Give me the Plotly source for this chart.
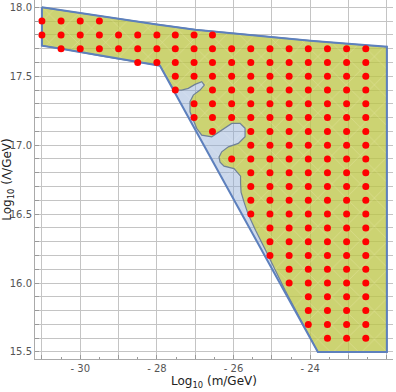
import plotly.graph_objects as go

# ---- outer allowed region (blue boundary) ----
outer_x = [-31.0, -30.0, -29.0, -28.0, -27.0, -26.0, -25.0, -24.0, -23.0, -22.0,
           -22.0, -23.8, -27.92, -28.0, -28.5, -29.0, -29.5, -30.0, -30.5, -31.0, -31.0]
outer_y = [18.0, 17.958, 17.917, 17.876, 17.838, 17.81, 17.783, 17.758, 17.735, 17.714,
           15.5, 15.5, 17.576, 17.58, 17.60, 17.625, 17.65, 17.676, 17.70, 17.722, 18.0]

# ---- inner (yellow) region with wavy boundary ----
inner_x = [-31.0, -30.0, -29.0, -28.0, -27.0, -26.0, -25.0, -24.0, -23.0, -22.0,
           -22.0, -23.8,
           -24.655, -24.903, -25.164, -25.426, -25.621, -25.726, -25.804, -25.817, -25.817,
           -25.987, -26.248, -26.352, -26.379, -26.308, -26.136, -25.875, -25.700, -25.700,
           -25.830, -26.047, -26.308, -26.569, -26.830, -26.961, -27.050, -27.136, -27.136,
           -27.050, -26.875, -26.762, -26.830, -27.005, -27.180, -27.352, -27.554,
           -27.92, -28.0, -28.5, -29.0, -29.5, -30.0, -30.5, -31.0, -31.0]
inner_y = [18.0, 17.958, 17.917, 17.876, 17.838, 17.81, 17.783, 17.758, 17.735, 17.714,
           15.5, 15.5,
           15.948, 16.093, 16.238, 16.383, 16.500, 16.587, 16.659, 16.725, 16.775,
           16.830, 16.848, 16.877, 16.913, 16.952, 16.988, 17.013, 17.061, 17.122,
           17.158, 17.158, 17.109, 17.061, 17.073, 17.122, 17.182, 17.242, 17.315,
           17.363, 17.400, 17.436, 17.460, 17.441, 17.412, 17.400, 17.400,
           17.576, 17.58, 17.60, 17.625, 17.65, 17.676, 17.70, 17.722, 18.0]

# ---- sample points (red dots) ----
sample_x = [-31.0, -30.5, -30.0, -29.5, -29.0, -28.5, -28.0, -27.52, -27.03,
            -26.55, -26.05, -25.55, -25.05, -24.55, -24.05, -23.55, -23.05, -22.55]
row_y = [17.9, 17.8, 17.7, 17.6, 17.5, 17.4, 17.3, 17.2, 17.1, 17.0, 16.9, 16.8,
         16.7, 16.6, 16.5, 16.4, 16.3, 16.2, 16.1, 16.0, 15.9, 15.8, 15.7, 15.6]
row_cols = [
    [0, 1, 2, 3],
    [0, 1, 2, 3, 4, 5, 6, 7, 8, 9],
    [1, 2, 3, 4, 5, 6, 7, 8, 9, 10, 11, 12, 13, 14, 15, 16, 17],
    [5, 6, 7, 8, 9, 10, 11, 12, 13, 14, 15, 16, 17],
    [7, 8, 9, 10, 11, 12, 13, 14, 15, 16, 17],
    [7, 9, 10, 11, 12, 13, 14, 15, 16, 17],
    [8, 9, 10, 11, 12, 13, 14, 15, 16, 17],
    [8, 9, 10, 11, 12, 13, 14, 15, 16, 17],
    [9, 11, 12, 13, 14, 15, 16, 17],
    [11, 12, 13, 14, 15, 16, 17],
    [10, 11, 12, 13, 14, 15, 16, 17],
    [11, 12, 13, 14, 15, 16, 17],
    [11, 12, 13, 14, 15, 16, 17],
    [11, 12, 13, 14, 15, 16, 17],
    [11, 12, 13, 14, 15, 16, 17],
    [12, 13, 14, 15, 16, 17],
    [12, 13, 14, 15, 16, 17],
    [12, 13, 14, 15, 16, 17],
    [13, 14, 15, 16, 17],
    [13, 14, 15, 16, 17],
    [14, 15, 16, 17],
    [14, 15, 16, 17],
    [14, 15, 16, 17],
    [15, 16, 17],
]

# ---- ticks ----
x_tick_vals = [-31, -30, -29, -28, -27, -26, -25, -24, -23, -22]
x_tick_text = [" ", "- 30", " ", "- 28", " ", "- 26", " ", "- 24", " ", "- 22"]
y_tick_vals = [15.5, 15.6, 15.7, 15.8, 15.9, 16.0, 16.1, 16.2, 16.3, 16.4, 16.5, 16.6, 16.7,
               16.8, 16.9, 17.0, 17.1, 17.2, 17.3, 17.4, 17.5, 17.6, 17.7, 17.8, 17.9, 18.0]
y_tick_text = ["15.5", " ", " ", " ", " ", "16.0", " ", " ", " ", " ", "16.5", " ", " ", " ", " ",
               "17.0", " ", " ", " ", " ", "17.5", " ", " ", " ", " ", "18.0"]

dots_x, dots_y = [], []
for y, cols in zip(row_y, row_cols):
    for c in cols:
        dots_x.append(sample_x[c])
        dots_y.append(y)

fig = go.Figure()
fig.add_trace(go.Scatter(
    x=outer_x, y=outer_y, mode="lines", fill="toself",
    fillcolor="rgba(140,168,212,0.45)", line=dict(width=0),
    fillpattern=dict(shape="x", bgcolor="rgba(140,168,212,0.45)", fgcolor="white",
                     fgopacity=0.35, size=20, solidity=0.04),
    hoverinfo="skip", showlegend=False))
fig.add_trace(go.Scatter(
    x=inner_x, y=inner_y, mode="lines", fill="toself",
    fillcolor="rgba(205,207,20,0.56)", line=dict(color="#6f8196", width=1.2),
    fillpattern=dict(shape="x", bgcolor="rgba(205,207,20,0.56)", fgcolor="white",
                     fgopacity=0.3, size=20, solidity=0.04),
    hoverinfo="skip", showlegend=False))
fig.add_trace(go.Scatter(
    x=outer_x, y=outer_y, mode="lines",
    line=dict(color="#5d80bd", width=2.0),
    hoverinfo="skip", showlegend=False))
fig.add_trace(go.Scatter(
    x=dots_x, y=dots_y, mode="markers",
    marker=dict(color="#ff0000", size=7, line=dict(width=0)),
    showlegend=False))

fig.update_layout(
    width=396, height=392,
    margin=dict(l=35, r=3, t=0, b=33),
    paper_bgcolor="white", plot_bgcolor="white",
    font=dict(family="DejaVu Sans", size=10, color="#555555"),
)
fig.update_xaxes(
    automargin=False,
    range=[-31.18, -21.84],
    tickmode="array", tickvals=x_tick_vals, ticktext=x_tick_text,
    ticks="inside", ticklen=4, tickcolor="#999999",
    minor=dict(dtick=0.5, tick0=-31, ticks="inside", ticklen=2, tickcolor="#999999", showgrid=False),
    showgrid=True, gridcolor="#c4c4c4", gridwidth=1,
    showline=True, linecolor="#aaaaaa", linewidth=1,
    zeroline=False,
    title=dict(text="Log<sub>10</sub> (m/GeV)", font=dict(size=12, color="#222222"), standoff=0),
)
fig.update_yaxes(
    automargin=False,
    range=[15.449, 18.053],
    tickmode="array", tickvals=y_tick_vals, ticktext=y_tick_text,
    ticks="inside", ticklen=4, tickcolor="#999999",
    showgrid=True, gridcolor="#c4c4c4", gridwidth=1,
    showline=True, linecolor="#aaaaaa", linewidth=1,
    zeroline=False,
    title=dict(text="Log<sub>10</sub> (Λ/GeV)", font=dict(size=12, color="#222222"), standoff=0),
)

fig.write_html("out.html",
               config={"displayModeBar": False},
               post_script="document.body.style.margin='0';document.body.style.overflow='hidden';")
